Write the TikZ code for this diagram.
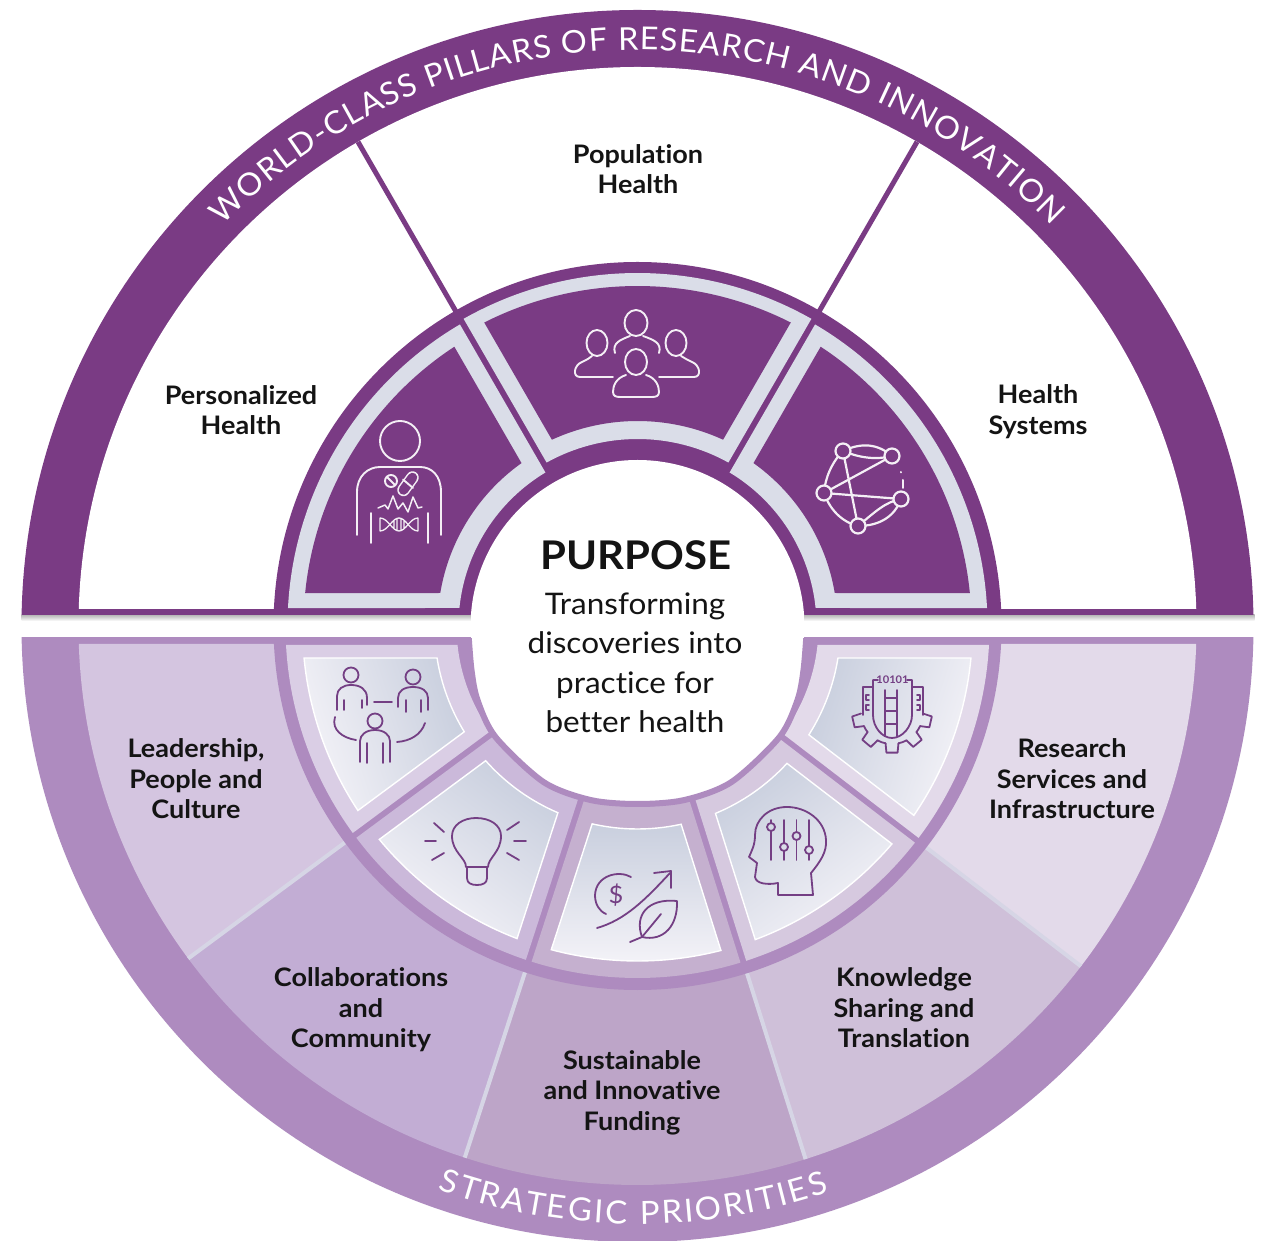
\documentclass[tikz,border=0pt]{standalone}
\usepackage{fontspec}
\setmainfont{Lato}[FakeStretch=1.06,Ligatures=NoCommon]
\usetikzlibrary{decorations.text,arrows.meta}
\definecolor{deep}{HTML}{7A3B84}
\definecolor{lav}{HTML}{AE8BBF}
\definecolor{steel}{HTML}{DADDE8}
\definecolor{secA}{HTML}{D4C5E0}
\definecolor{secB}{HTML}{C2ADD4}
\definecolor{secC}{HTML}{BDA5C8}
\definecolor{secD}{HTML}{CFC0D9}
\definecolor{secE}{HTML}{E3DAEA}
\definecolor{sepl}{HTML}{D6D5E5}
\definecolor{icn}{HTML}{743F84}
\definecolor{ink}{HTML}{141414}
\definecolor{fillDark}{HTML}{C9CFDE}
\definecolor{fillLight}{HTML}{F4F3F8}
\newfontfamily\bandfont{Lato}[FakeStretch=1.03,Ligatures=NoCommon]
% annular sector: [style]{start}{end}{inner r}{outer r}{offset at start}{offset at end}
\newcommand\sect[7][]{%
  \pgfmathsetmacro\oa{#2+asin(#6/#5)}%
  \pgfmathsetmacro\ob{#3-asin(#7/#5)}%
  \pgfmathsetmacro\ia{#2+asin(#6/#4)}%
  \pgfmathsetmacro\ib{#3-asin(#7/#4)}%
  \path[#1] (\oa:#5) arc[start angle=\oa,end angle=\ob,radius=#5] -- (\ib:#4) arc[start angle=\ib,end angle=\ia,radius=#4] -- cycle;}
\tikzset{
  lbl/.style={align=center,font=\bfseries\fontsize{25.5}{30.6}\selectfont,text=ink,inner sep=0pt},
  ctr/.style={align=center,text=ink,inner sep=0pt},
  lowfill/.style={draw=white,line width=1.4pt,top color=fillDark,bottom color=fillLight,shading angle=#1},
  wic/.style={draw=white!92!deep,line width=1.9pt,line cap=round,line join=round},
  pic/.style={draw=icn,line width=1.8pt,line cap=round,line join=round}
}
\begin{document}
\begin{tikzpicture}[x=1pt,y=1pt]
\useasboundingbox (0,0) rectangle (1268,1240);
\fill[white] (0,0) rectangle (1268,1240);
\begin{scope}[shift={(637.5,614)}]
% shadow under the upper half
\shade[top color=black!28,bottom color=white] (-616,11) rectangle (617,5);
% ---------- upper half
\begin{scope}
  \clip (-640,11) rectangle (640,640);
  \fill[deep] (0,0) circle[radius=616];
  \begin{scope}
    \clip (-640,17) rectangle (640,640);
    \fill[white] (0,0) circle[radius=559];
  \end{scope}
  \draw[deep,line width=5pt] (60:360) -- (60:559);
  \draw[deep,line width=5pt] (120:360) -- (120:559);
  \fill[deep] (0,0) circle[radius=364];
  \sect[fill=steel]{0}{60}{179}{350}{18}{3}
  \sect[fill=steel]{60}{120}{187}{353}{3}{3}
  \sect[fill=steel]{120}{180}{179}{350}{3}{18}
  \sect[fill=deep]{0}{60}{200}{334}{33}{19}
  \sect[fill=deep]{60}{120}{205}{340}{19}{19}
  \sect[fill=deep]{120}{180}{200}{334}{19}{33}
  \fill[white] (0,-1) circle[radius=167];
\end{scope}
% band title
\path[decorate,decoration={text along path,text align={fit to path},
  text={|\bandfont\fontsize{31.5}{31.5}\selectfont\color{white}|WORLD-CLASS PILLARS OF RESEARCH AND INNOVATION}}]
  (136:576) arc[start angle=136,end angle=44,radius=576];
% ---------- lower half
\begin{scope}
  \clip (-640,-12) rectangle (640,-640);
  \fill[lav] (0,0) circle[radius=616];
  \sect[fill=secA]{180}{216.5}{360}{559}{18}{0}
  \sect[fill=secB]{216.5}{252}{360}{559}{0}{0}
  \sect[fill=secC]{252}{287.5}{360}{559}{0}{0}
  \sect[fill=secD]{287.5}{322.5}{360}{559}{0}{0}
  \sect[fill=secE]{322.5}{360}{360}{559}{0}{18}
  \foreach \a in {216.5,252,287.5,322.5}
    \draw[sepl,line width=4pt] (\a:360) -- (\a:559);
  \fill[lav] (0,0) circle[radius=364];
  \sect[fill=secA!85!white]{180}{216.5}{181}{352}{19}{3}
  \sect[fill=secB!85!white]{216.5}{252}{181}{352}{3}{3}
  \sect[fill=secC!88!white]{252}{287.5}{181}{352}{3}{3}
  \sect[fill=secD!85!white]{287.5}{322.5}{181}{352}{3}{3}
  \sect[fill=secE]{322.5}{360}{181}{352}{3}{19}
  \sect[lowfill=288]{180}{216.5}{203}{335}{32}{18}
  \sect[lowfill=324]{216.5}{252}{203}{335}{18}{18}
  \sect[lowfill=360]{252}{287.5}{203}{335}{18}{18}
  \sect[lowfill=36]{287.5}{322.5}{203}{335}{18}{18}
  \sect[lowfill=72]{322.5}{360}{203}{335}{18}{32}
  % white centre of the lower half
  \draw[lav,line width=6pt,fill=white] plot[smooth] coordinates {(-169,-8) (-166,-44) (-160,-74) (-142,-111) (-94,-156) (-47,-174) (0,-178) (47,-174) (94,-156) (142,-111) (160,-74) (166,-44) (169,-8)} -- cycle;
\end{scope}
\fill[white] (-166.5,-12) rectangle (166.5,12);
% band title
\path[decorate,decoration={text along path,text align={fit to path},
  text={|\bandfont\fontsize{32}{32}\selectfont\color{white}|STRATEGIC PRIORITIES}}]
  (250.5:598) arc[start angle=250.5,end angle=288.7,radius=598];
\end{scope}
% ---------- labels
\node[lbl] (lPop) at (638,1240-169) {Population\\Health};
\node[lbl] (lPer) at (241,1240-410) {Personalized\\Health};
\node[lbl] (lSys) at (1038,1240-411.5) {Health\\Systems};
\node[lbl] (lLea) at (196,1240-779) {Leadership,\\People and\\Culture};
\node[lbl] (lRes) at (1072,1240-779) {Research\\Services and\\Infrastructure};
\node[lbl] (lCol) at (361,1240-1010) {Collaborations\\and\\Community};
\node[lbl] (lKno) at (904,1240-1008) {Knowledge\\Sharing and\\Translation};
\node[lbl] (lSus) at (632,1240-1092.5) {Sustainable\\and Innovative\\Funding};
\node[ctr,font=\bfseries\fontsize{39.5}{39.5}\selectfont] (purpose) at (636,1240-555) {PURPOSE};
\node[ctr,font=\fontsize{29.7}{39.5}\selectfont] (mission) at (635,1240-663) {Transforming\\discoveries into\\practice for\\better health};
% ---------- icons, in image pixels (y down)
\begin{scope}[shift={(0,1240)},y=-1pt]
% person with pills, pulse, dna
\draw[wic] (400,441) circle[radius=20];
\draw[wic] (357,535) -- (357,492) .. controls (357,476) and (368,467) .. (380,467) -- (420,467) .. controls (432,467) and (441,476) .. (441,492) -- (441,535);
\draw[wic] (371,513) -- (371,543) (428,513) -- (428,543);
\draw[wic] (391,481) circle[radius=6] (387,477) -- (395,485);
\draw[white!92!deep,line width=12.5pt,line cap=round] (403.5,490) -- (412.5,477.5);
\draw[deep,line width=9.5pt,line cap=round] (403.5,490) -- (412.5,477.5);
\draw[wic] (403,479.5) -- (413,488);
\draw[wic,line width=1.5pt] (378,508) -- (385,505) -- (388,509) -- (393,496) -- (398,509) -- (403,503) -- (408,512) -- (413,497) -- (418,508) -- (422,507);
\draw[wic,line width=1.3pt] (380,518) .. controls (388,518) and (392,531) .. (399,531) .. controls (406,531) and (410,518) .. (418,518) (380,531) .. controls (388,531) and (392,518) .. (399,518) .. controls (406,518) and (410,531) .. (418,531) (380,518) -- (380,531) (418,518) -- (418,531) (394,520) -- (394,529) (397,519) -- (397,530) (401,519) -- (401,530) (404,520) -- (404,529);
% group of people
\draw[wic] (636,323) ellipse[x radius=11.5,y radius=13];
\draw[wic] (597,343) ellipse[x radius=10.5,y radius=13];
\draw[wic] (676,343) ellipse[x radius=10.5,y radius=13];
\draw[wic] (636,362) ellipse[x radius=11,y radius=13];
\draw[wic] (613,377) -- (580,377) .. controls (572,377) and (574,365) .. (582,362) .. controls (588,359) and (590,358) .. (592,356);
\draw[wic] (659,377) -- (694,377) .. controls (702,377) and (700,365) .. (692,362) .. controls (686,359) and (684,358) .. (681,356);
\draw[wic] (615,353) .. controls (612,343) and (620,340) .. (630,336) (659,353) .. controls (662,343) and (654,340) .. (643,336);
\draw[wic] (626,375) .. controls (616,378) and (613,386) .. (613,392) .. controls (613,396) and (616,397) .. (620,397) -- (652,397) .. controls (656,397) and (659,396) .. (659,392) .. controls (659,386) and (656,378) .. (646,375);
% network
\foreach \n/\p in {a/{843,451},b/{892,456},c/{824,493},d/{901,499},e/{858,526}}
  \coordinate (net\n) at (\p);
\draw[wic,line width=2.2pt] (neta) -- (nete) (netb) -- (netc) (netc) -- (netd);
\draw[wic,line width=2.2pt] (neta) .. controls (862,442) and (878,444) .. (netb) (neta) .. controls (860,458) and (876,460) .. (netb);
\draw[wic,line width=2.2pt] (neta) .. controls (832,462) and (825,478) .. (netc) (netc) .. controls (830,510) and (842,522) .. (nete);
\draw[wic,line width=2.2pt] (nete) .. controls (875,512) and (885,502) .. (netd) (nete) .. controls (880,526) and (895,516) .. (netd);
\draw[wic,line width=2pt] (901,472) -- (901,472.5) (903,480) -- (903,488);
\foreach \n in {a,b,c,d,e}
  \draw[wic,line width=2.2pt,fill=deep] (net\n) circle[radius=7.5];
% leadership people
\draw[pic] (351,675) circle[radius=7.5] (413,677) circle[radius=7.5] (375,721) circle[radius=7.5];
\draw[pic] (337,710) -- (337,696) .. controls (337,689) and (343,685) .. (351,685) .. controls (360,685) and (367,689) .. (367,698) -- (367,705);
\draw[pic] (344,700) -- (344,710) (362,700) -- (362,708);
\draw[pic] (398,707) -- (398,698) .. controls (398,691) and (404,687) .. (413,687) .. controls (422,687) and (428,691) .. (428,698) -- (428,710);
\draw[pic] (406,700) -- (406,712) (421,700) -- (421,712);
\draw[pic] (374,702) -- (392,702);
\draw[pic] (360,762) -- (360,741) .. controls (360,735) and (366,730) .. (375,730) .. controls (384,730) and (390,735) .. (390,741) -- (390,762);
\draw[pic] (367,743) -- (367,763) (383,743) -- (383,763);
\draw[pic] (335,717) .. controls (331,730) and (343,738) .. (356,740) (425,723) .. controls (421,735) and (410,741) .. (397,742);
% bulb
\draw[pic] (466,867) .. controls (466,858) and (452,852) .. (452,836) .. controls (452,825) and (463,818) .. (476,818) .. controls (490,818) and (501,825) .. (501,836) .. controls (501,852) and (488,858) .. (488,867) -- cycle;
\draw[pic] (467,867) -- (467,878) .. controls (467,883) and (471,885) .. (477,885) .. controls (483,885) and (487,883) .. (487,878) -- (487,867);
\draw[pic] (434,823) -- (444,832) (425,841) -- (436,841) (432,860) -- (444,853) (507,830) -- (519,822) (514,841) -- (526,841) (507,853) -- (519,860);
% funding and leaf
\draw[pic] (631,877) .. controls (619,870) and (596,875) .. (595,895) .. controls (595,904) and (599,911) .. (606,914);
\node[inner sep=0pt,text=icn,font=\fontsize{24}{24}\selectfont] (dollar) at (616,895) {\$};
\draw[pic] (597,928) .. controls (625,920) and (645,900) .. (670,873);
\draw[pic] (654,873) -- (671,871) -- (671,888);
\draw[pic] (642,937) .. controls (634,915) and (648,898) .. (677,901) .. controls (678,925) and (664,942) .. (642,937);
\draw[pic] (630,942) -- (642,937) -- (661,914);
% head with sliders
\draw[pic] (778,895) -- (813,895) -- (811,873) .. controls (820,862) and (827,852) .. (826,840) .. controls (825,820) and (806,807) .. (787,807) .. controls (768,807) and (755,820) .. (755,835) .. controls (755,845) and (752,850) .. (749,857) -- (757,863) -- (755,877) .. controls (756,884) and (768,885) .. (778,883) -- cycle;
\draw[pic] (771,820) -- (771,823) (771,831) -- (771,860) (784,820) -- (784,843) (784,851) -- (784,860) (796.5,820) -- (796.5,832) (796.5,840) -- (796.5,860) (809,820) -- (809,846) (809,854) -- (809,860);
\draw[pic] (771,827) circle[radius=4] (784,847) circle[radius=4] (796.5,836) circle[radius=4] (809,850) circle[radius=4];
% research gear
\draw[pic] (878,680) -- (873,680) -- (873,715) .. controls (873,727) and (882,738) .. (892,738) .. controls (902,738) and (912,727) .. (912,715) -- (912,680) -- (907,680);
\node[inner sep=0pt,text=icn,font=\bfseries\fontsize{10.5}{10.5}\selectfont] (bits) at (892.5,680) {10101};
\draw[pic] (885,690) -- (885,736) (897,690) -- (897,736) (885,698) -- (897,698) (885,711) -- (897,711) (885,724) -- (897,724);
\draw[pic] (873,687) -- (863,687) -- (863,715) (912,687) -- (923,687) -- (923,715);
\draw[pic] (869,695) -- (866,695) -- (866,700) -- (869,700) (869,705) -- (866,705) -- (866,710) -- (869,710) (917,695) -- (920,695) -- (920,700) -- (917,700) (917,705) -- (920,705) -- (920,710) -- (917,710);
\begin{scope}[shift={(892,713)}]
\foreach \t in {13,50,90,130,167}{
  \draw[pic] (\t-12:31) -- (\t-8:40) -- (\t+8:40) -- (\t+12:31);
}
\foreach \s/\e in {25/38,62/78,102/118,142/155}
  \draw[pic] (\s:31) arc[start angle=\s,end angle=\e,radius=31];
\end{scope}
\end{scope}
\end{tikzpicture}
\end{document}
